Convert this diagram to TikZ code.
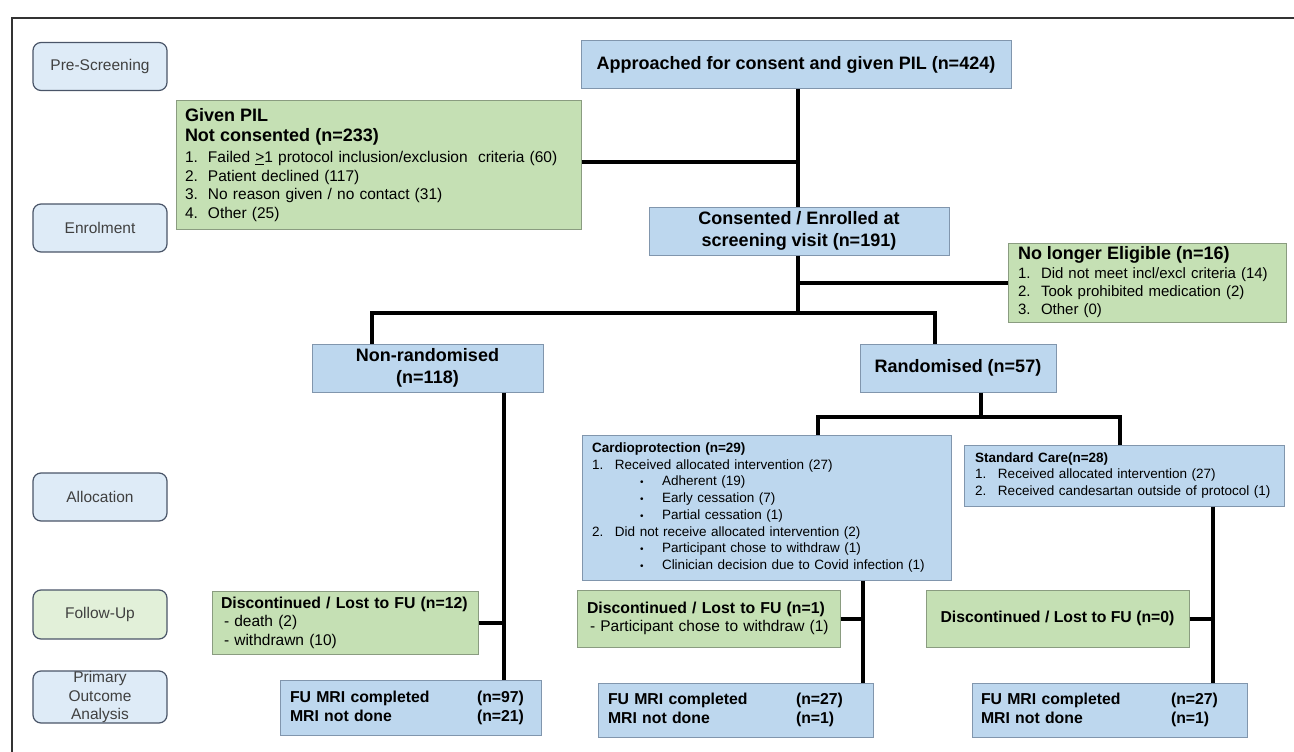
\documentclass[tikz,border=0pt]{standalone}
\usepackage{fontspec}
\setmainfont{Liberation Sans}
\usetikzlibrary{calc}

\definecolor{boxblue}{HTML}{BDD7EE}
\definecolor{blueline}{HTML}{8196AD}
\definecolor{boxgreen}{HTML}{C5E0B4}
\definecolor{greenline}{HTML}{8A9C80}
\definecolor{stagefill}{HTML}{DEEBF7}
\definecolor{stagegreen}{HTML}{E2F0D9}
\definecolor{stageline}{HTML}{4A5568}
\definecolor{stagetext}{HTML}{404040}
\definecolor{framecol}{HTML}{333333}

\newcommand{\numitem}[2]{\makebox[23pt][l]{#1}#2}
\newcommand{\dotitem}[1]{\hspace*{48pt}\makebox[22pt][l]{\fontsize{10}{10}\selectfont\textbullet}#1}
\newcommand{\hd}{\fontsize{18}{22}\selectfont\bfseries}

\begin{document}
\begin{tikzpicture}[x=1pt,y=-1pt,
      stagebox/.style={draw=stageline,fill=stagefill,rounded corners=8pt,line width=1.2pt,
        minimum width=134pt,minimum height=48pt,inner sep=0pt,text=stagetext,align=center,
        font=\fontsize{15.5}{18.5}\selectfont},
      bluebox/.style={draw=blueline,fill=boxblue,line width=1pt},
      greenbox/.style={draw=greenline,fill=boxgreen,line width=1pt},
      big/.style={font=\hd,align=center,inner sep=0pt},
      list/.style={align=left,inner ysep=0pt,font=\fontsize{15.5}{18.5}\selectfont},
      small/.style={align=left,inner ysep=0pt,font=\fontsize{13.5}{16.7}\selectfont},
      mri/.style={bluebox,align=left,inner ysep=0pt,font=\fontsize{15.8}{19}\selectfont\bfseries},
      link/.style={line width=4pt}]
      \useasboundingbox (0,0) rectangle (1294,752);
      \draw[line width=2.5pt,framecol] (12,752) -- (12,18) -- (1294,18);

      % stages
      \node[stagebox] (pre) at (100,66.5) {Pre-Screening};
      \node[stagebox] (enr) at (100,228) {Enrolment};
      \node[stagebox] (alc) at (100,497) {Allocation};
      \node[stagebox,fill=stagegreen,minimum height=49pt] (fup) at (100,614.5) {Follow-Up};
      \node[stagebox,minimum height=52pt] (poa) at (100,697) {Primary\\Outcome\\Analysis};

      % flow boxes
      \node[bluebox,big,minimum width=430pt,minimum height=48pt] (appr) at (796,65)
        {Approached for consent and given PIL (n=424)};
      \node[greenbox,list,text width=387pt,inner xsep=9pt,minimum height=128pt] (pil) at (378.5,165)
        {{\hd Given PIL}\\[1pt]
         {\hd Not consented (n=233)}\\[3pt]
         \numitem{1.}{Failed \underline{>}1 protocol inclusion/exclusion\ \ criteria (60)}\\
         \numitem{2.}{Patient declined (117)}\\
         \numitem{3.}{No reason given / no contact (31)}\\
         \numitem{4.}{Other (25)}};
      \node[bluebox,big,minimum width=300pt,minimum height=48pt] (cons) at (799,231)
        {Consented / Enrolled at\\screening visit (n=191)};
      \node[greenbox,list,font=\fontsize{15}{18}\selectfont,text width=258pt,inner xsep=10pt,
        minimum height=79pt] (nle) at (1147,282.5)
        {{\hd No longer Eligible (n=16)}\\[1pt]
         \numitem{1.}{Did not meet incl/excl criteria (14)}\\
         \numitem{2.}{Took prohibited medication (2)}\\
         \numitem{3.}{Other (0)}};
      \node[bluebox,big,minimum width=231pt,minimum height=48pt] (nonr) at (427.5,368)
        {Non-randomised\\(n=118)};
      \node[bluebox,big,minimum width=196pt,minimum height=48pt] (rand) at (958,368)
        {Randomised (n=57)};
      \node[bluebox,small,text width=349pt,inner xsep=10pt,minimum height=145pt] (cardio) at (766.5,507.5)
        {\textbf{Cardioprotection (n=29)}\\
         \numitem{1.}{Received allocated intervention (27)}\\
         \dotitem{Adherent (19)}\\
         \dotitem{Early cessation (7)}\\
         \dotitem{Partial cessation (1)}\\
         \numitem{2.}{Did not receive allocated intervention (2)}\\
         \dotitem{Participant chose to withdraw (1)}\\
         \dotitem{Clinician decision due to Covid infection (1)}};
      \node[bluebox,small,text width=298pt,inner xsep=11pt,minimum height=61pt] (std) at (1124,475.5)
        {\textbf{Standard Care(n=28)}\\
         \numitem{1.}{Received allocated intervention (27)}\\
         \numitem{2.}{Received candesartan outside of protocol (1)}};
      \node[greenbox,list,text width=248pt,inner xsep=9pt,minimum height=63pt] (d12) at (345,622.5)
        {\textbf{\fontsize{15.8}{19}\selectfont Discontinued / Lost to FU (n=12)}\\
         \hspace*{3pt}- death (2)\\
         \hspace*{3pt}- withdrawn (10)};
      \node[greenbox,list,text width=243pt,inner xsep=10pt,minimum height=57pt] (d1) at (708.5,618.5)
        {\textbf{\fontsize{15.8}{19}\selectfont Discontinued / Lost to FU (n=1)}\\
         \hspace*{3pt}- Participant chose to withdraw (1)};
      \node[greenbox,big,font=\fontsize{15.8}{19}\selectfont\bfseries,minimum width=263pt,minimum height=57pt] (d0)
        at (1057.5,618.5) {Discontinued / Lost to FU (n=0)};
      \node[mri,text width=241pt,inner xsep=10pt,minimum height=55pt] (mri1) at (410.5,707.5)
        {\makebox[187pt][l]{FU MRI completed}(n=97)\\\makebox[187pt][l]{MRI not done}(n=21)};
      \node[mri,text width=255pt,inner xsep=10pt,minimum height=54pt] (mri2) at (735.5,710)
        {\makebox[188pt][l]{FU MRI completed}(n=27)\\\makebox[188pt][l]{MRI not done}(n=1)};
      \node[mri,text width=257pt,inner xsep=9pt,minimum height=54pt] (mri3) at (1109.5,710)
        {\makebox[190pt][l]{FU MRI completed}(n=27)\\\makebox[190pt][l]{MRI not done}(n=1)};

      % junctions
      \coordinate (j1) at (798,313);
      \coordinate (jl) at (372,313);
      \coordinate (jr) at (935,313);
      \coordinate (k1) at (981,417);
      \coordinate (kl) at (818,417);
      \coordinate (kr) at (1120,417);
      \coordinate (v1) at (504,0);
      \coordinate (v2) at (863,0);
      \coordinate (v3) at (1213,0);

      \draw[link] (appr.south -| j1) -- (cons.north -| j1);
      \draw[link] ([yshift=3pt]pil.east) -- ([yshift=3pt]pil.east -| j1);
      \draw[link] (cons.south -| j1) -- (j1);
      \draw[link] (nle.west) -- (nle.west -| j1);
      \draw[link] (nonr.north -| jl) -- (jl) -- (jr) -- (rand.north -| jr);
      \draw[link] (rand.south -| k1) -- (k1);
      \draw[link] (cardio.north -| kl) -- (kl) -- (kr) -- (std.north -| kr);
      \draw[link] (nonr.south -| v1) -- (mri1.north -| v1);
      \draw[link] (d12.east) -- (d12.east -| v1);
      \draw[link] (cardio.south -| v2) -- (mri2.north -| v2);
      \draw[link] (d1.east) -- (d1.east -| v2);
      \draw[link] (std.south -| v3) -- (mri3.north -| v3);
      \draw[link] (d0.east) -- (d0.east -| v3);
\end{tikzpicture}
\end{document}
